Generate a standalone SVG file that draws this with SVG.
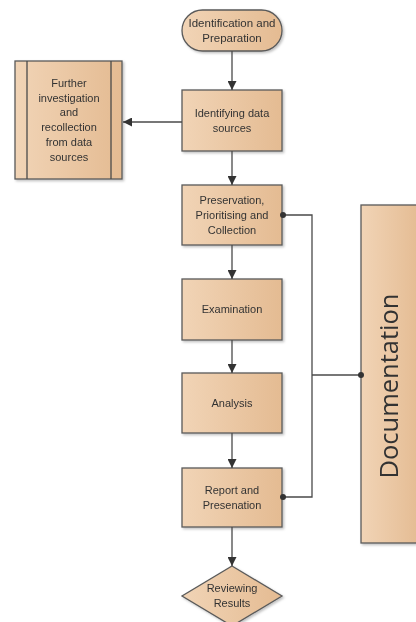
<svg xmlns="http://www.w3.org/2000/svg" width="416" height="622" viewBox="0 0 416 622">
<style>
.n{fill:url(#g);stroke:#5a5a5a;stroke-width:1.3}
.t{font-family:"Liberation Sans",Arial,sans-serif;font-size:11px;fill:#333;text-anchor:middle}
.top{font-size:11.5px}
.big{font-family:"Open Sans","Liberation Sans",sans-serif;font-size:25.5px}
.c{fill:none;stroke:#4a4a4a;stroke-width:1.3}
.d{fill:#333}
</style>
<defs>
<linearGradient id="g" x1="0" y1="0" x2="1" y2="0">
<stop offset="0" stop-color="#F1D4B6"/>
<stop offset="1" stop-color="#E4BB92"/>
</linearGradient>
<marker id="a" viewBox="0 0 10 10" refX="10" refY="5" markerWidth="9" markerHeight="9" markerUnits="userSpaceOnUse" orient="auto">
<path d="M0,0 L10,5 L0,10 z" fill="#333"/>
</marker>
<filter id="s" x="-10%" y="-10%" width="130%" height="130%">
<feDropShadow dx="1.5" dy="1.5" stdDeviation="1" flood-color="#000" flood-opacity="0.25"/>
</filter>
</defs>
<g id="start" filter="url(#s)">
<rect class="n" x="182" y="10" width="100" height="41" rx="20.5"/>
<text class="t top" x="232" y="27">Identification and</text>
<text class="t top" x="232" y="42">Preparation</text>
</g>
<g id="identify" filter="url(#s)">
<rect class="n" x="182" y="90" width="100" height="61"/>
<text class="t" x="232" y="117">Identifying data</text>
<text class="t" x="232" y="132">sources</text>
</g>
<g id="further" filter="url(#s)">
<rect class="n" x="15" y="61" width="107" height="118"/>
<line class="c" x1="27" y1="61" x2="27" y2="179"/>
<line class="c" x1="111" y1="61" x2="111" y2="179"/>
<text class="t" x="69" y="87">Further</text>
<text class="t" x="69" y="102">investigation</text>
<text class="t" x="69" y="116">and</text>
<text class="t" x="69" y="131">recollection</text>
<text class="t" x="69" y="146">from data</text>
<text class="t" x="69" y="161">sources</text>
</g>
<g id="preservation" filter="url(#s)">
<rect class="n" x="182" y="185" width="100" height="60"/>
<text class="t" x="232" y="204">Preservation,</text>
<text class="t" x="232" y="219">Prioritising and</text>
<text class="t" x="232" y="234">Collection</text>
</g>
<g id="examination" filter="url(#s)">
<rect class="n" x="182" y="279" width="100" height="61"/>
<text class="t" x="232" y="313">Examination</text>
</g>
<g id="analysis" filter="url(#s)">
<rect class="n" x="182" y="373" width="100" height="60"/>
<text class="t" x="232" y="407">Analysis</text>
</g>
<g id="report" filter="url(#s)">
<rect class="n" x="182" y="468" width="100" height="59"/>
<text class="t" x="232" y="494">Report and</text>
<text class="t" x="232" y="509">Presenation</text>
</g>
<g id="review" filter="url(#s)">
<path class="n" d="M232,566 L282,596 L232,626 L182,596 z"/>
<text class="t" x="232" y="592">Reviewing</text>
<text class="t" x="232" y="607">Results</text>
</g>
<g id="documentation" filter="url(#s)">
<rect class="n" x="361" y="205" width="60" height="338"/>
<text class="t big" x="0" y="0" transform="translate(398,386) rotate(-90)">Documentation</text>
</g>
<g id="connectors">
<path class="c" d="M232,51 V90" marker-end="url(#a)"/>
<path class="c" d="M182,122 H123" marker-end="url(#a)"/>
<path class="c" d="M232,151 V185" marker-end="url(#a)"/>
<path class="c" d="M232,245 V279" marker-end="url(#a)"/>
<path class="c" d="M232,340 V373" marker-end="url(#a)"/>
<path class="c" d="M232,433 V468" marker-end="url(#a)"/>
<path class="c" d="M232,527 V566" marker-end="url(#a)"/>
<path class="c" d="M283,215 H312 V497 H283"/>
<path class="c" d="M312,375 H361"/>
<circle class="d" cx="283" cy="215" r="3"/>
<circle class="d" cx="283" cy="497" r="3"/>
<circle class="d" cx="361" cy="375" r="3"/>
</g>
</svg>
